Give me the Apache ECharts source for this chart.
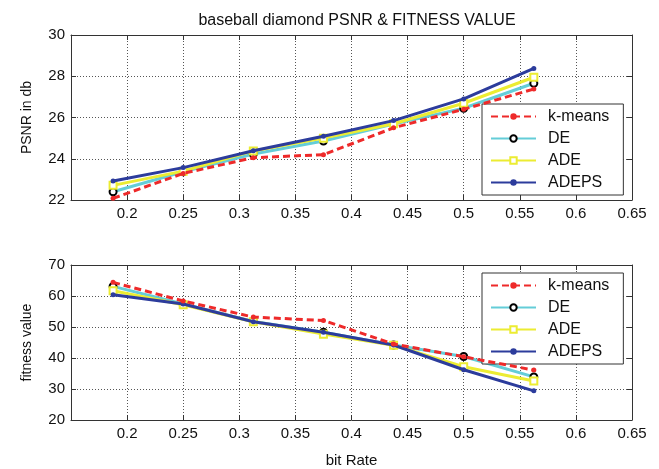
<!DOCTYPE html>
<html><head><meta charset="utf-8">
<script src="https://cdn.jsdelivr.net/npm/echarts@6/dist/echarts.min.js"></script>
<style>html,body{margin:0;padding:0;background:#fff}#c{width:659px;height:469px}</style>
</head><body><div id="c"></div>
<script>
const bitRate = [0.1875, 0.25, 0.3125, 0.375, 0.4375, 0.5, 0.5625];
const psnrKmeans = [22.08, 23.29, 24.05, 24.2, 25.5, 26.4, 27.38];
const psnrDE     = [22.4, 23.37, 24.23, 24.86, 25.68, 26.45, 27.66];
const psnrADE    = [22.71, 23.4, 24.38, 25.0, 25.7, 26.69, 27.95];
const psnrADEPS  = [22.92, 23.57, 24.39, 25.09, 25.85, 26.9, 28.38];
const fitKmeans  = [64.4, 58.4, 53.2, 52.1, 44.5, 40.4, 36.1];
const fitDE      = [63.1, 57.4, 51.8, 48.3, 44.2, 40.5, 33.9];
const fitADE     = [61.7, 57.2, 51.7, 47.7, 44.1, 37.2, 32.6];
const fitADEPS   = [60.4, 57.4, 51.7, 48.3, 44.2, 36.2, 29.4];
const names = ['k-means', 'DE', 'ADE', 'ADEPS'];

const FONT = 'Liberation Sans, Arial, sans-serif';
const colors = {'k-means':'#ee2a2a', 'DE':'#64cdd8', 'ADE':'#ecec32', 'ADEPS':'#2c3c9c'};
const pair = ys => bitRate.map((x,i)=>[x, ys[i]]);

function mkSeries(name, ys, xi, yi) {
  const base = {name, type:'line', xAxisIndex:xi, yAxisIndex:yi, data:pair(ys), z: 3,
    lineStyle:{color:colors[name], width:3}, itemStyle:{color:colors[name]}, animation:false};
  if (name==='k-means') { base.lineStyle.type=[7,4]; base.symbol='circle'; base.symbolSize=5; base.z=5; }
  if (name==='DE') { base.symbol='emptyCircle'; base.symbolSize=7; base.itemStyle={color:'#000', borderColor:'#000', borderWidth:1.5}; base.z=2;}
  if (name==='ADE') { base.symbol='emptyRect'; base.symbolSize=7; base.itemStyle={color:colors.ADE, borderColor:colors.ADE, borderWidth:1.5}; base.z=3;}
  if (name==='ADEPS') { base.symbol='circle'; base.symbolSize=5; base.z=4; }
  return base;
}

const axisLbl = {fontFamily:FONT, fontSize:15, color:'#111'};
const gridLine = {show:true, lineStyle:{color:'#555', type:[1,2], width:1}};
function xMain(gi, showName) {
  return {type:'value', gridIndex:gi, min:0.15, max:0.65, interval:0.05, position:'bottom',
    axisLine:{lineStyle:{color:'#333'}}, axisTick:{inside:true, length:5, lineStyle:{color:'#333'}},
    axisLabel:Object.assign({margin:6, formatter: v => (Math.abs(v-0.15)<1e-9 ? '' : +v.toFixed(2)+'')}, axisLbl),
    splitLine:gridLine,
    name: showName ? 'bit Rate' : '', nameLocation:'middle', nameGap:33,
    nameTextStyle:{fontFamily:FONT, fontSize:15, color:'#111'}};
}
function xTop(gi) {
  return {type:'value', gridIndex:gi, min:0.15, max:0.65, interval:0.05, position:'top',
    axisLine:{lineStyle:{color:'#333'}}, axisTick:{inside:true, length:5, lineStyle:{color:'#333'}},
    axisLabel:{show:false}, splitLine:{show:false}};
}
function yMain(gi, min, max, iv, name) {
  return {type:'value', gridIndex:gi, min, max, interval:iv, position:'left',
    axisLine:{show:true, lineStyle:{color:'#333'}}, axisTick:{show:true, inside:true, length:5, lineStyle:{color:'#333'}},
    axisLabel:Object.assign({margin:6}, axisLbl), splitLine:gridLine,
    name, nameLocation:'middle', nameGap:37, nameRotate:90,
    nameTextStyle:{fontFamily:FONT, fontSize:14, color:'#111'}};
}
function yRight(gi, min, max, iv) {
  return {type:'value', gridIndex:gi, min, max, interval:iv, position:'right',
    axisLine:{show:true, lineStyle:{color:'#333'}}, axisTick:{show:true, inside:true, length:5, lineStyle:{color:'#333'}},
    axisLabel:{show:false}, splitLine:{show:false}};
}
function legend(top) {
  return {data:names, orient:'vertical', left:482, top:top,
    itemWidth:45, itemHeight:8, itemGap:5,
    padding:[4,14,4,8], borderColor:'#333', borderWidth:1, backgroundColor:'#fff',
    textStyle:{fontFamily:FONT, fontSize:16, color:'#111', lineHeight:17, padding:[0,0,0,7]}, selectedMode:false};
}

const chart = echarts.init(document.getElementById('c'), null, {renderer:'canvas'});
chart.setOption({
  animation:false,
  backgroundColor:'#fff',
  title:{text:'baseball diamond PSNR & FITNESS VALUE', left:352, top:8, textAlign:'center',
    textStyle:{fontFamily:FONT, fontSize:16, fontWeight:'normal', color:'#111'}},
  grid:[{left:71, top:35, width:561, height:165}, {left:71, top:265, width:561, height:165}],
  xAxis:[xMain(0,false), xTop(0), xMain(1,true), xTop(1)],
  yAxis:[yMain(0,22,30,2,'PSNR in db'), yRight(0,22,30,2), yMain(1,20,70,10,'fitness value'), yRight(1,20,70,10)],
  legend:[legend(104), legend(273)],
  series:[
    mkSeries('DE', psnrDE, 0, 0), mkSeries('ADE', psnrADE, 0, 0), mkSeries('ADEPS', psnrADEPS, 0, 0), mkSeries('k-means', psnrKmeans, 0, 0),
    mkSeries('DE', fitDE, 2, 2), mkSeries('ADE', fitADE, 2, 2), mkSeries('ADEPS', fitADEPS, 2, 2), mkSeries('k-means', fitKmeans, 2, 2)
  ]
});
</script></body></html>
